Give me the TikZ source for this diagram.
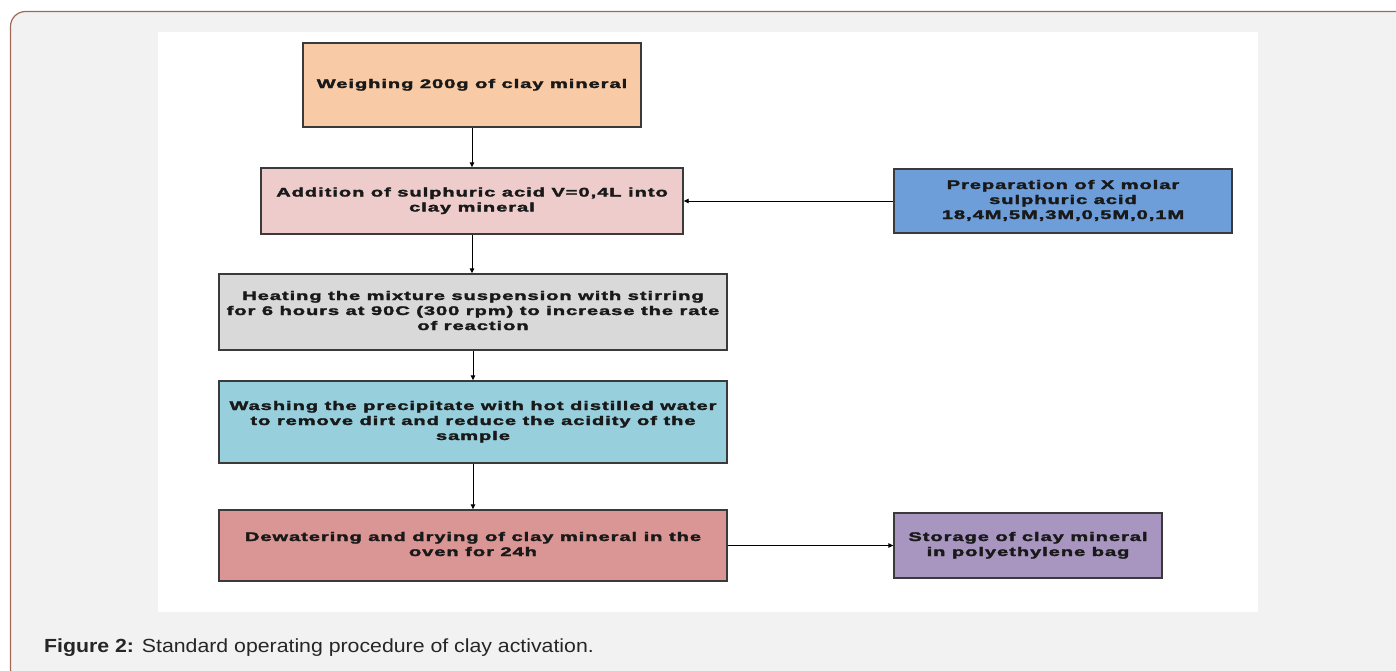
\documentclass[tikz,border=0pt]{standalone}
\usepackage{fontspec}
\usepackage{graphicx}
\setmainfont{Liberation Sans}
\newfontfamily\boxfont{Liberation Sans}[LetterSpace=5,FakeBold=2]
\usetikzlibrary{arrows.meta}
\definecolor{bgc}{HTML}{F2F2F2}
\definecolor{framec}{HTML}{A0695A}
\definecolor{c1}{HTML}{F8CBA6}
\definecolor{c2}{HTML}{EECCCB}
\definecolor{c3}{HTML}{6E9EDA}
\definecolor{c4}{HTML}{D9D9D9}
\definecolor{c5}{HTML}{98CFDD}
\definecolor{c6}{HTML}{D99694}
\definecolor{c7}{HTML}{A896C0}
\definecolor{edgec}{HTML}{3A3A3A}
\newcommand{\bxt}[1]{\scalebox{1.6}[1]{\begin{tabular}{@{}c@{}}#1\end{tabular}}}
\tikzset{
  stepbox/.style={draw=edgec,line width=1.4pt,align=center,inner sep=0pt,
    font=\boxfont\bfseries\fontsize{12.5}{15}\selectfont,text=black!90},
  flow/.style={draw=black,line width=0.9pt,-{Triangle[length=5pt,width=4.5pt]}}
}
\begin{document}
\begin{tikzpicture}[x=1pt,y=-1pt]
\useasboundingbox (0,0) rectangle (1396,670);
\begin{scope}
\clip (0,0) rectangle (1396,670);
\draw[fill=bgc,draw=framec,line width=1.2pt,rounded corners=15pt] (10.5,11.5) rectangle (1420,684);
\end{scope}
\fill[white] (158,32) rectangle (1258,612);

\node[stepbox,fill=c1,minimum width=338pt,minimum height=84pt] (w) at (472,85) {\bxt{Weighing 200g of clay mineral}};
\node[stepbox,fill=c2,minimum width=422pt,minimum height=66pt] (a) at (472,201) {\bxt{Addition of sulphuric acid V=0,4L into\\clay mineral}};
\node[stepbox,fill=c3,minimum width=338pt,minimum height=64pt] (p) at (1063,201) {\bxt{Preparation of X molar\\sulphuric acid\\18,4M,5M,3M,0,5M,0,1M}};
\node[stepbox,fill=c4,minimum width=508pt,minimum height=76pt] (h) at (473,312) {\bxt{Heating the mixture suspension with stirring\\for 6 hours at 90C (300 rpm) to increase the rate\\of reaction}};
\node[stepbox,fill=c5,minimum width=508pt,minimum height=82pt] (wa) at (473,422) {\bxt{Washing the precipitate with hot distilled water\\to remove dirt and reduce the acidity of the\\sample}};
\node[stepbox,fill=c6,minimum width=508pt,minimum height=71pt] (d) at (473,545.5) {\bxt{Dewatering and drying of clay mineral in the\\oven for 24h}};
\node[stepbox,fill=c7,minimum width=268pt,minimum height=65pt] (s) at (1028,545.5) {\bxt{Storage of clay mineral\\in polyethylene bag}};

\draw[flow] (w.south) -- (w.south |- a.north);
\draw[flow] (a.south) -- (a.south |- h.north);
\draw[flow] (h.south) -- (wa.north);
\draw[flow] (wa.south) -- (d.north);
\draw[flow] (p.west) -- (a.east);
\draw[flow] (d.east) -- (s.west);

\node[anchor=west,font=\fontsize{19}{21}\selectfont,text=black!85,inner sep=0pt] (cap) at (44,648) {\scalebox{1.12}[1]{\textbf{Figure 2:} Standard operating procedure of clay activation.}};
\end{tikzpicture}
\end{document}
